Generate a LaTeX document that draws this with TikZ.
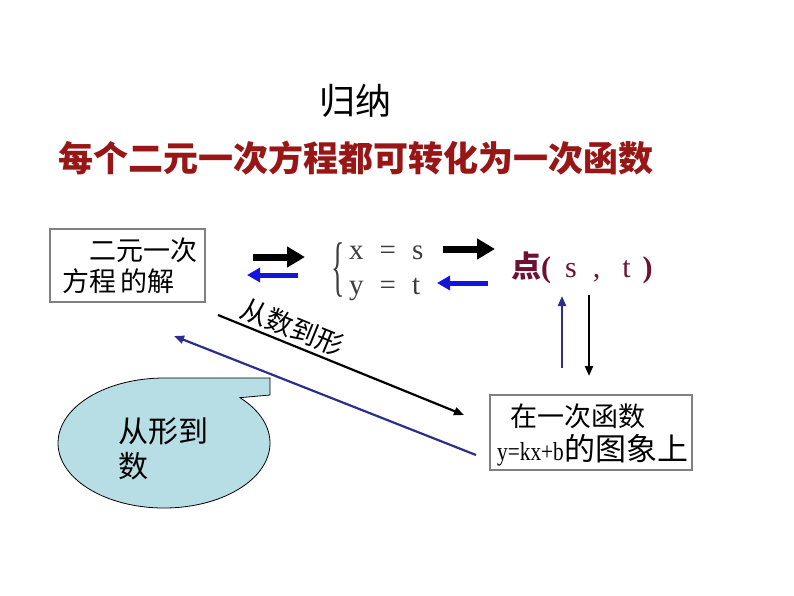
\documentclass[tikz,border=0pt]{standalone}
\usepackage{fontspec}
\usepackage{graphicx}
\setmainfont{Liberation Serif}
\newfontfamily\cjk{Noto Sans CJK SC}
\usetikzlibrary{arrows.meta}
\definecolor{titlered}{RGB}{152,22,22}
\definecolor{ptmaroon}{RGB}{110,16,50}
\definecolor{navyline}{RGB}{45,45,140}
\definecolor{pureblue}{RGB}{20,20,220}
\definecolor{bubble}{RGB}{183,222,228}
\definecolor{boxgray}{RGB}{128,128,128}
\definecolor{eqgray}{RGB}{60,60,60}
\begin{document}
\begin{tikzpicture}[x=1pt,y=-1pt,
  graybox/.style={draw=boxgray, line width=2.5pt, fill=white},
  fatarrow/.style={line width=7pt, black, -{Triangle[length=18pt,width=20pt]}},
  bluearrow/.style={line width=5pt, pureblue, -{Triangle[length=13pt,width=14pt]}},
  thinarrow/.style={line width=2.2pt, -{Triangle[length=10pt,width=8pt]}},
  cjkt/.style={font=\cjk\fontsize{27}{31}\selectfont}]
\useasboundingbox (0,0) rectangle (794,596);

% headings
\node[font=\cjk\fontsize{36}{40}\selectfont] (gn) at (355,101) {归纳};
\node[font=\cjk\bfseries\fontsize{35}{40}\selectfont, text=titlered] (title) at (356,158) {每个二元一次方程都可转化为一次函数};

% box 1
\node[graybox, cjkt, minimum width=155pt, minimum height=73pt, inner xsep=12pt,
      text width=131pt, align=left] (b1) at (127.5,265.5)
      {\hspace*{1em}二元一次\\方程\,的解};

% equation system
\node[text=eqgray, font=\fontsize{66}{66}\selectfont, inner sep=0pt] (brace) at (338,270)
  {\scalebox{0.42}[1]{\{}};
\node[text=eqgray, font=\fontsize{29}{35}\selectfont, inner sep=0pt, anchor=west] (sys) at (349,270)
  {\begin{tabular}{@{}l@{}}x\hspace{16pt}=\hspace{16pt}s\\ y\hspace{16pt}=\hspace{16pt}t\end{tabular}};

% point
\node[text=ptmaroon, font=\fontsize{30}{34}\selectfont, anchor=west, inner sep=0pt] (pt) at (511,268)
  {{\cjk\bfseries 点}\textbf{(}\hspace{14pt}s\hspace{16pt},\hspace{22pt}t\hspace{12pt}\textbf{)}};

% box 2
\node[graybox, minimum width=202pt, minimum height=75pt] (b2) at (591,432.5) {};
\node[font=\cjk\fontsize{27}{31}\selectfont, anchor=west, inner sep=0pt] (b2a) at (510,416) {在一次函数};
\node[anchor=west, inner sep=0pt] (b2b) at (497,450)
  {\fontsize{26}{30}\selectfont\scalebox{0.82}[1]{y=kx+b}\hspace{1pt}{\cjk\fontsize{31}{34}\selectfont 的图象上}};

% callout bubble
\path[fill=bubble, draw=black, line width=0.8pt] (240,397.7)
  arc[start angle=44.2, end angle=-270, x radius=106pt, y radius=65pt]
  -- (270,378) -- (270,395) -- cycle;
\node[font=\cjk\fontsize{30}{35}\selectfont, align=left, anchor=west] (ct) at (115,449) {从形到\\数};

% horizontal arrows
\coordinate (a1s) at (253,257); \coordinate (a1e) at (305,257);
\coordinate (a2s) at (298,275); \coordinate (a2e) at (247,275);
\coordinate (a3s) at (443,249); \coordinate (a3e) at (495,249);
\coordinate (a4s) at (488,283); \coordinate (a4e) at (437,283);
\draw[fatarrow] (a1s) -- (a1e);
\draw[bluearrow] (a2s) -- (a2e);
\draw[fatarrow] (a3s) -- (a3e);
\draw[bluearrow] (a4s) -- (a4e);

% vertical arrows
\coordinate (v1s) at (562,368); \coordinate (v1e) at (562,296);
\coordinate (v2s) at (589,295); \coordinate (v2e) at (589,376);
\draw[thinarrow, navyline] (v1s) -- (v1e);
\draw[thinarrow, black] (v2s) -- (v2e);

% diagonal arrows
\coordinate (d1s) at (218,315); \coordinate (d1e) at (464,415);
\coordinate (d2s) at (476,455); \coordinate (d2e) at (174,336);
\draw[thinarrow, black] (d1s) -- (d1e);
\draw[thinarrow, navyline] (d2s) -- (d2e);
\node[cjkt, rotate=-22.2] (l1) at (292,327) {从数到形};
\end{tikzpicture}
\end{document}
